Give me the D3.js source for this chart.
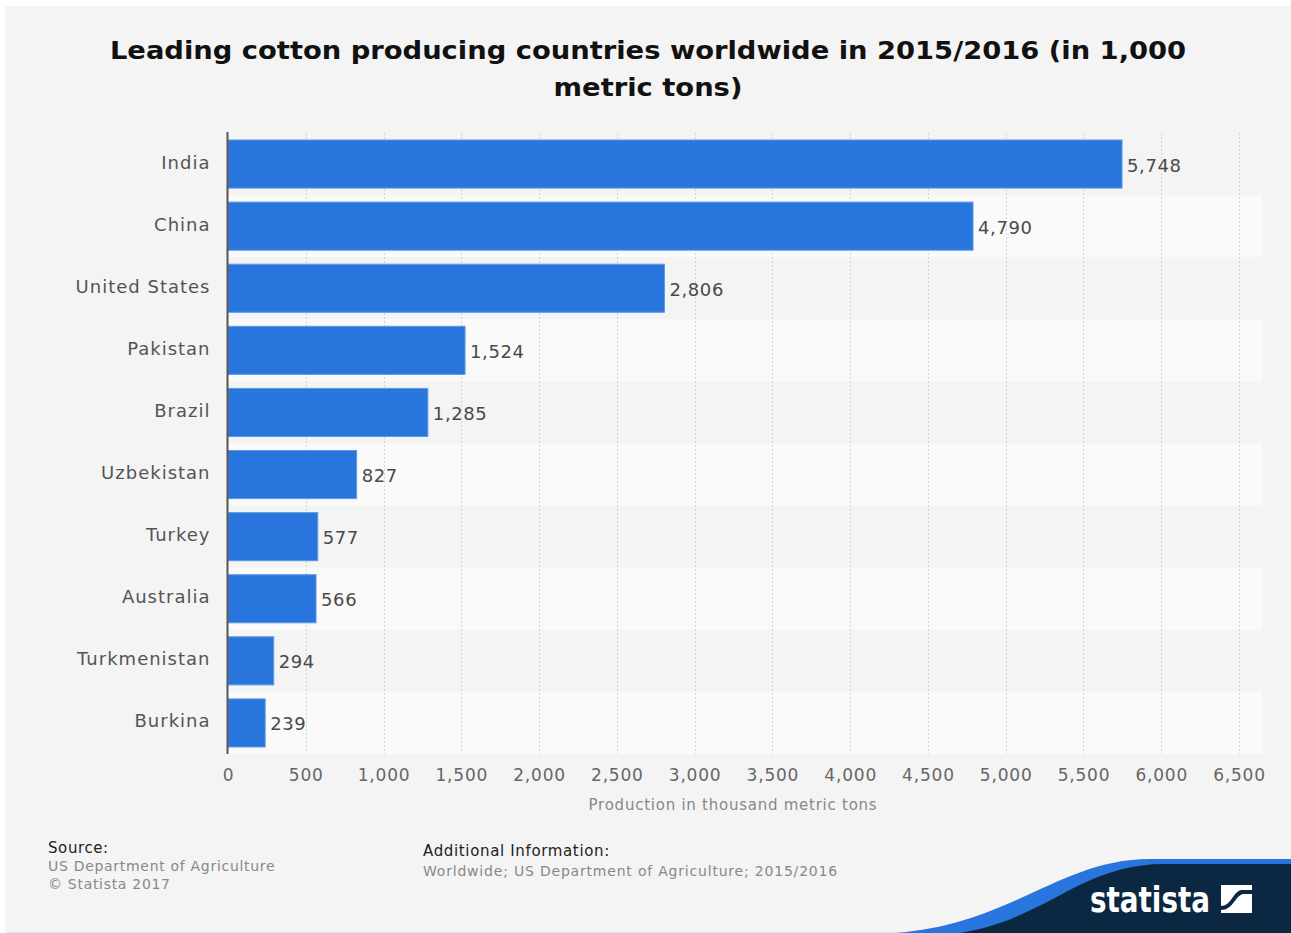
<!DOCTYPE html>
<html>
<head>
<meta charset="utf-8">
<script src="https://cdn.jsdelivr.net/npm/d3@7"></script>
<style>
  html, body { margin: 0; padding: 0; background: #ffffff; }
  svg { display: block; }
  text { font-family: "DejaVu Sans", sans-serif; }
</style>
</head>
<body>
<script>
const categories = ["India", "China", "United States", "Pakistan", "Brazil", "Uzbekistan", "Turkey", "Australia", "Turkmenistan", "Burkina"];
const values = [5748, 4790, 2806, 1524, 1285, 827, 577, 566, 294, 239];
const tickValues = [0, 500, 1000, 1500, 2000, 2500, 3000, 3500, 4000, 4500, 5000, 5500, 6000, 6500];
const titleLines = ["Leading cotton producing countries worldwide in 2015/2016 (in 1,000", "metric tons)"];
const axisTitle = "Production in thousand metric tons";
const sourceLines = ["US Department of Agriculture", "© Statista 2017"];
const additionalInfo = "Worldwide; US Department of Agriculture; 2015/2016";

const W = 1291, H = 933;
const svg = d3.select("body").append("svg").attr("width", W).attr("height", H);

// panel
svg.append("rect").attr("x", 5).attr("y", 6).attr("width", W - 5).attr("height", 926).attr("fill", "#f4f4f4");
svg.append("line").attr("x1", 5).attr("x2", W).attr("y1", 932.5).attr("y2", 932.5).attr("stroke", "#dde6f0").attr("stroke-width", 1);

// title (horizontally widened glyphs as in the reference)
svg.append("g").selectAll("text").data(titleLines).join("text")
  .attr("transform", (d, i) => `translate(648,${59 + i * 37}) scale(1.14,1)`)
  .attr("text-anchor", "middle")
  .attr("font-size", 24).attr("font-weight", "bold").attr("fill", "#111")
  .text(d => d);

const x = d3.scaleLinear().domain([0, 6500]).range([228, 1239]);
const y = d3.scaleBand().domain(categories).range([133, 754]).paddingInner(0).paddingOuter(0);

// alternating row bands
svg.append("g").selectAll("rect").data(categories).join("rect")
  .attr("x", 228).attr("width", 1262 - 228)
  .attr("y", d => y(d)).attr("height", y.bandwidth())
  .attr("fill", (d, i) => i % 2 === 0 ? "#f4f4f4" : "#fafafa");

// gridlines
svg.append("g").selectAll("line").data(tickValues.slice(1)).join("line")
  .attr("x1", d => Math.round(x(d)) + 0.5).attr("x2", d => Math.round(x(d)) + 0.5)
  .attr("y1", 133).attr("y2", 754)
  .attr("stroke", "#d2d2d2").attr("stroke-width", 1).attr("stroke-dasharray", "2,2");

// bars
const barPad = 7;
svg.append("g").selectAll("rect").data(values).join("rect")
  .attr("x", x(0))
  .attr("y", (d, i) => y(categories[i]) + barPad)
  .attr("width", d => x(d) - x(0))
  .attr("height", y.bandwidth() - 2 * barPad)
  .attr("fill", "#2876dd")
  .attr("stroke", "#5d9ae6").attr("stroke-width", 1);

// value labels
svg.append("g").selectAll("text").data(values).join("text")
  .attr("x", d => x(d) + 5)
  .attr("y", (d, i) => y(categories[i]) + y.bandwidth() / 2 + 1)
  .attr("dominant-baseline", "central")
  .attr("font-size", 18).attr("fill", "#4a4a4a").attr("letter-spacing", 0.6)
  .text(d => d3.format(",")(d));

// y axis (category labels)
const yAxis = d3.axisLeft(y).tickSize(0).tickPadding(17);
const gy = svg.append("g").attr("transform", "translate(227.5,0)").call(yAxis);
gy.select(".domain").attr("stroke", "#555").attr("stroke-width", 2).attr("d", "M0,132V754");
gy.selectAll("text").attr("font-size", 18).attr("fill", "#555").attr("font-family", "DejaVu Sans")
  .attr("letter-spacing", 1).attr("dy", "0.25em");

// x axis
const xAxis = d3.axisBottom(x).tickValues(tickValues).tickSize(0).tickPadding(8).tickFormat(d3.format(","));
const gx = svg.append("g").attr("transform", "translate(0,761)").call(xAxis);
gx.select(".domain").remove();
gx.selectAll("text").attr("font-size", 17).attr("fill", "#666").attr("font-family", "DejaVu Sans").attr("letter-spacing", 0.8);

svg.append("text").attr("x", 733).attr("y", 810).attr("text-anchor", "middle")
  .attr("font-size", 15).attr("fill", "#888").attr("letter-spacing", 0.75).text(axisTitle);

// footer
svg.append("text").attr("x", 48).attr("y", 853).attr("font-size", 15).attr("fill", "#222").attr("letter-spacing", 0.6).text("Source:");
svg.append("g").selectAll("text").data(sourceLines).join("text")
  .attr("x", 48).attr("y", (d, i) => 871 + i * 18)
  .attr("font-size", 14).attr("fill", "#888").attr("letter-spacing", 0.7).text(d => d);
svg.append("text").attr("x", 423).attr("y", 856).attr("font-size", 15).attr("fill", "#222").attr("letter-spacing", 0.65).text("Additional Information:");
svg.append("text").attr("x", 423).attr("y", 876).attr("font-size", 14).attr("fill", "#888").attr("letter-spacing", 0.8).text(additionalInfo);

// statista logo wave
svg.append("path")
  .attr("d", "M895,933 C1010,925 1060,859 1150,859 L1291,859 L1291,933 Z")
  .attr("fill", "#2876dd");
svg.append("path")
  .attr("d", "M960,933 C1050,918 1080,864 1165,864 L1291,864 L1291,933 Z")
  .attr("fill", "#0b2741");
svg.append("text").attr("x", 1090).attr("y", 912)
  .attr("font-family", "'Liberation Sans Narrow', 'Roboto Condensed', 'DejaVu Sans Condensed', sans-serif")
  .attr("font-weight", "bold").attr("font-size", 36).attr("fill", "#ffffff")
  .attr("textLength", 120).attr("lengthAdjust", "spacingAndGlyphs").text("statista");
// logo icon
const ic = svg.append("g").attr("transform", "translate(1221,885)");
ic.append("rect").attr("width", 31).attr("height", 28).attr("fill", "#ffffff");
ic.append("path").attr("d", "M0,21 C10,21 12,7 20,5 L31,5 L31,9 L22,9 C14,11 12,25 0,25 Z").attr("fill", "#0b2741");
</script>
</body>
</html>
